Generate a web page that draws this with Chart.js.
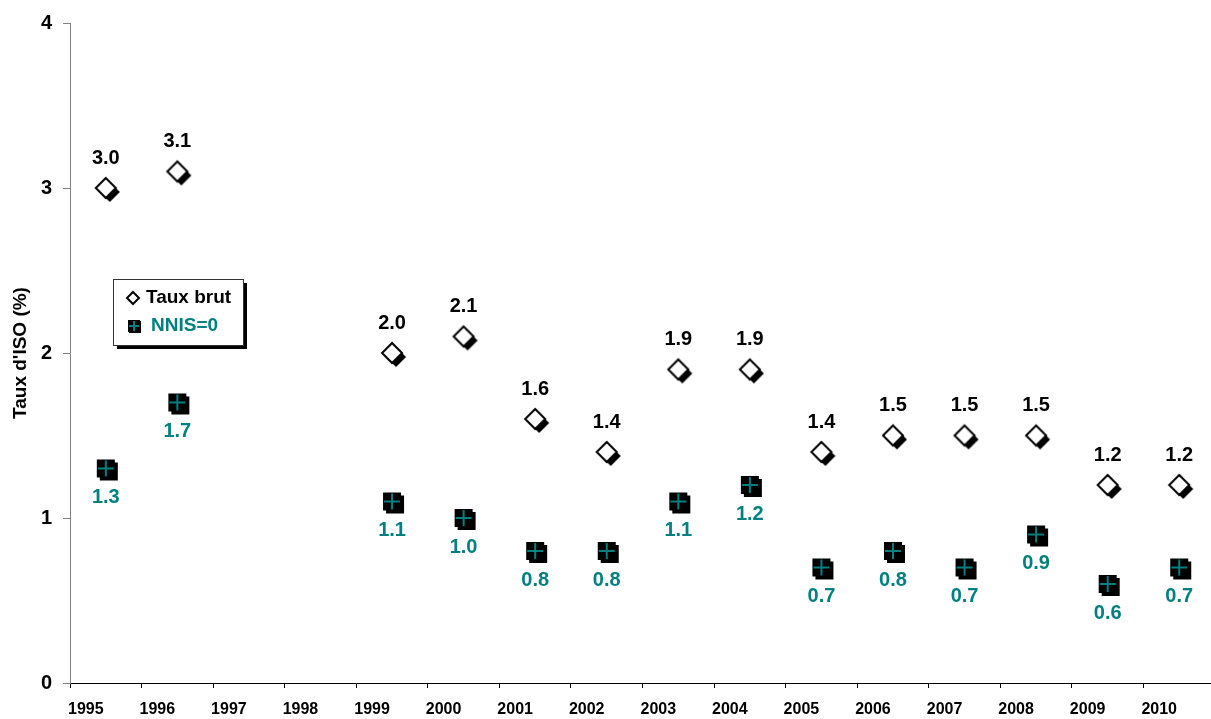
<!DOCTYPE html>
<html>
<head>
<meta charset="utf-8">
<script src="https://cdn.jsdelivr.net/npm/chart.js@4.4.0/dist/chart.umd.min.js"></script>
<style>
  html, body { margin: 0; padding: 0; background: #fff; overflow: hidden; }
  #wrap { width: 1220px; height: 719px; position: relative; }
</style>
</head>
<body>
<div id="wrap"><canvas id="myChart"></canvas></div>
<script>
// data
const years = ['1995', '1996', '1997', '1998', '1999', '2000', '2001', '2002',
               '2003', '2004', '2005', '2006', '2007', '2008', '2009', '2010'];
const tauxBrut = [3.0, 3.1, null, null, 2.0, 2.1, 1.6, 1.4, 1.9, 1.9, 1.4, 1.5, 1.5, 1.5, 1.2, 1.2];
const nnis0 = [1.3, 1.7, null, null, 1.1, 1.0, 0.8, 0.8, 1.1, 1.2, 0.7, 0.8, 0.7, 0.9, 0.6, 0.7];
const yTicks = [0, 1, 2, 3, 4];

const TEAL = '#008080';
const FONT = "'Liberation Sans', Arial, sans-serif";

// MARKERS - drawn once on small canvases and used as pointStyle
function diamondMarker(half, shadow) {
    const size = (half + shadow) * 2 + 6;
    const c = document.createElement('canvas');
    c.width = c.height = size;
    const g = c.getContext('2d');
    const m = size / 2;
    function path(dx, dy) {
        g.beginPath();
        g.moveTo(m + dx, m - half + dy);
        g.lineTo(m + half + dx, m + dy);
        g.lineTo(m + dx, m + half + dy);
        g.lineTo(m - half + dx, m + dy);
        g.closePath();
    }
    if (shadow) {
        path(shadow, shadow);
        g.fillStyle = '#000';
        g.fill();
    }
    path(0, 0);
    g.fillStyle = '#fff';
    g.fill();
    g.lineWidth = 2;
    g.strokeStyle = '#000';
    g.stroke();
    return c;
}

function squareMarker(half, shadow) {
    const size = (half + shadow) * 2 + 6;
    const c = document.createElement('canvas');
    c.width = c.height = size;
    const g = c.getContext('2d');
    const m = size / 2;
    g.fillStyle = '#000';
    if (shadow) g.fillRect(m - half + shadow, m - half + shadow, half * 2, half * 2);
    g.fillRect(m - half, m - half, half * 2, half * 2);
    g.strokeStyle = TEAL;
    g.lineWidth = 2;
    g.beginPath();
    g.moveTo(m - half + 1, m);
    g.lineTo(m + half - 1, m);
    g.moveTo(m, m - half + 1);
    g.lineTo(m, m + half - 1);
    g.stroke();
    return c;
}

const diamondBig = diamondMarker(10, 4);
const squareBig = squareMarker(9, 3);
const diamondSmall = diamondMarker(6, 0);
const squareSmall = squareMarker(6, 1);

// value labels above / below the points
const pointLabels = {
    id: 'pointLabels',
    afterDatasetsDraw(chart) {
        const ctx = chart.ctx;
        chart.data.datasets.forEach((ds, i) => {
            const meta = chart.getDatasetMeta(i);
            meta.data.forEach((pt, j) => {
                const v = ds.data[j];
                if (v === null) return;
                ctx.save();
                ctx.font = 'bold 20px ' + FONT;
                ctx.fillStyle = ds.labelColor;
                ctx.textAlign = 'center';
                ctx.textBaseline = 'middle';
                ctx.fillText(v.toFixed(1), pt.x, pt.y + ds.labelShift);
                ctx.restore();
            });
        });
    }
};

// boxed legend inside the plot, with drop shadow
const boxLegend = {
    id: 'boxLegend',
    afterDraw(chart) {
        const ctx = chart.ctx;
        const x = 113, y = 279, w = 130, h = 66;
        ctx.save();
        ctx.fillStyle = '#000';
        ctx.fillRect(x + 4, y + 4, w, h);
        ctx.fillStyle = '#fff';
        ctx.fillRect(x, y, w, h);
        ctx.strokeStyle = '#333';
        ctx.lineWidth = 1;
        ctx.strokeRect(x + 0.5, y + 0.5, w, h);

        const icons = [diamondSmall, squareSmall];
        const iconX = [133, 134];
        const textX = [146, 151];
        const rowY = [298, 326];
        ctx.font = 'bold 19px ' + FONT;
        ctx.textBaseline = 'middle';
        ctx.textAlign = 'left';
        chart.data.datasets.forEach((ds, i) => {
            const ic = icons[i];
            ctx.drawImage(ic, iconX[i] - ic.width / 2, rowY[i] - ic.height / 2);
            ctx.fillStyle = ds.labelColor;
            ctx.fillText(ds.label, textX[i], rowY[i]);
        });
        ctx.restore();
    }
};

const ctx = document.getElementById('myChart').getContext('2d');

const myChart = new Chart(ctx, {
    type: 'line',
    data: {
        labels: years,
        datasets: [{
            label: 'Taux brut',
            data: tauxBrut,
            showLine: false,
            pointStyle: diamondBig,
            labelColor: '#000',
            labelShift: -30
        }, {
            label: 'NNIS=0',
            data: nnis0,
            showLine: false,
            pointStyle: squareBig,
            labelColor: TEAL,
            labelShift: 29
        }]
    },
    options: {
        responsive: true,
        maintainAspectRatio: false,
        animation: false,
        events: [],
        layout: {
            padding: { top: 21, left: 0, right: 0, bottom: 0 }
        },
        plugins: {
            legend: { display: false },
            tooltip: { enabled: false }
        },
        scales: {
            x: {
                offset: true,
                grid: { offset: true, drawOnChartArea: false, tickLength: 5, color: '#000' },
                border: { color: '#000', width: 1 },
                ticks: {
                    font: { size: 16, weight: 'bold', family: FONT },
                    color: '#000',
                    labelOffset: -20,
                    padding: 12,
                    maxRotation: 0,
                    autoSkip: false
                },
                afterFit: s => { s.height = 36; }
            },
            y: {
                min: 0,
                max: 4,
                afterBuildTicks: s => { s.ticks = yTicks.map(v => ({ value: v })); },
                grid: { drawOnChartArea: false, tickLength: 7, color: '#808080' },
                border: { color: '#808080', width: 1 },
                ticks: {
                    font: { size: 20, weight: 'bold', family: FONT },
                    color: '#000',
                    padding: 11
                },
                title: {
                    display: true,
                    text: "Taux d'ISO (%)",
                    font: { size: 19, weight: 'bold', family: FONT },
                    color: '#000',
                    padding: { top: 9, bottom: 0 }
                },
                afterFit: s => { s.width = 70; }
            }
        }
    },
    plugins: [pointLabels, boxLegend]
});
</script>
</body>
</html>
